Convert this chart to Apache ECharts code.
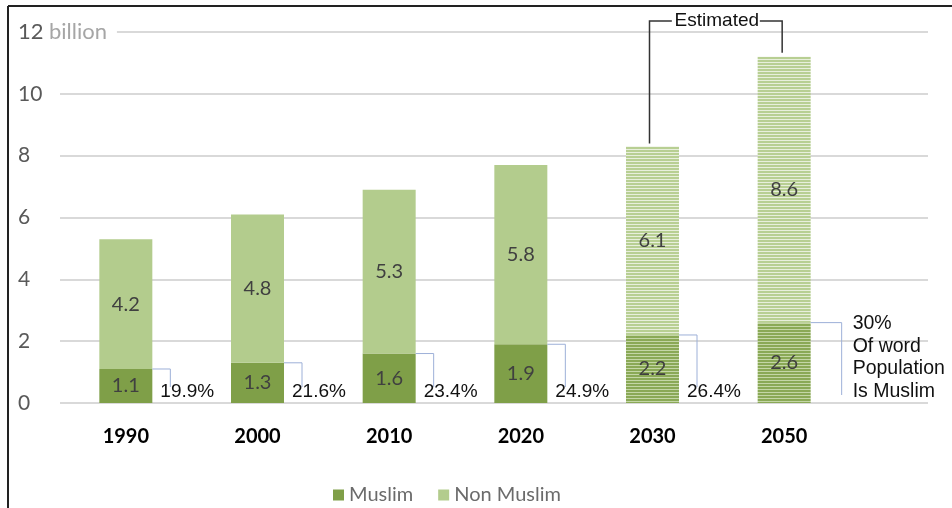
<!DOCTYPE html>
<html>
<head>
<meta charset="utf-8">
<script src="https://cdn.jsdelivr.net/npm/echarts@6/dist/echarts.min.js"></script>
<style>
  html, body { margin: 0; padding: 0; background: #fff; }
  #main { width: 952px; height: 508px; }
</style>
</head>
<body>
<div id="main"></div>
<script>
var years = ["1990", "2000", "2010", "2020", "2030", "2050"];
var muslim = [1.1, 1.3, 1.6, 1.9, 2.2, 2.6];
var nonMuslim = [4.2, 4.8, 5.3, 5.8, 6.1, 8.6];
var shareLabels = ["19.9%", "21.6%", "23.4%", "24.9%", "26.4%", "30%\nOf word\nPopulation\nIs Muslim"];
var estimated = [false, false, false, false, true, true];
var yMin = 0, yMax = 12, yStep = 2;

var BAR_W = 53;
var LABEL_FONT = "Lato";

// horizontal stripes for the estimated bars
function stripes(c1, c2) {
  var cv = document.createElement("canvas");
  cv.width = 4;
  cv.height = 3;
  var ctx = cv.getContext("2d");
  ctx.fillStyle = c1;
  ctx.fillRect(0, 0, 4, 2);
  ctx.fillStyle = c2;
  ctx.fillRect(0, 2, 4, 1);
  return { image: cv, repeat: "repeat" };
}

var MUSLIM_C = "#7f9f48";
var NON_C = "#b3cc8d";
var muslimHatch = stripes("#8aa956", "#c4d6a6");
var nonHatch = stripes("#b8cf93", "#e8efdc");

function barData(vals, hatch) {
  return vals.map(function (v, i) {
    return estimated[i] ? { value: v, itemStyle: { color: hatch } } : v;
  });
}

var chart = echarts.init(document.getElementById("main"));

var option = {
  animation: false,
  backgroundColor: "#fff",
  graphic: [
    { type: "line", shape: { x1: 8, y1: 6, x2: 952, y2: 6 }, style: { stroke: "#222", lineWidth: 2 } },
    { type: "line", shape: { x1: 8, y1: 6, x2: 8, y2: 508 }, style: { stroke: "#222", lineWidth: 2 } }
  ],
  legend: {
    data: ["Muslim", "Non Muslim"],
    left: 328,
    top: 480,
    itemWidth: 11,
    itemHeight: 11,
    itemGap: 25,
    icon: "rect",
    textStyle: { fontFamily: LABEL_FONT, fontSize: 20, color: "#6b6b6b" }
  },
  grid: [
    { left: 60, right: 24, top: 32, bottom: 105 },
    { left: 60, width: 790, top: 32, bottom: 105 }
  ],
  xAxis: [
    { gridIndex: 0, type: "value", show: false, min: 0, max: 1 },
    {
      gridIndex: 1,
      type: "category",
      data: years,
      axisLine: { show: false },
      axisTick: { show: false },
      axisLabel: {
        margin: 24,
        fontFamily: LABEL_FONT,
        fontSize: 20,
        fontWeight: "bold",
        color: "#000"
      }
    }
  ],
  yAxis: [
    {
      gridIndex: 0,
      type: "value",
      min: yMin,
      max: yMax,
      interval: yStep,
      axisLine: { show: false },
      axisTick: { show: false },
      axisLabel: { show: false },
      splitLine: { lineStyle: { color: "#d9d9d9", width: 2 } }
    },
    {
      gridIndex: 1,
      type: "value",
      min: yMin,
      max: yMax,
      interval: yStep,
      z: 5,
      axisLine: { show: false },
      axisTick: { show: false },
      splitLine: { show: false },
      axisLabel: {
        align: "left",
        margin: 42,
        backgroundColor: "#fff",
        padding: [0, 10, 0, 0],
        fontFamily: LABEL_FONT,
        fontSize: 21,
        color: "#595959",
        formatter: function (v) {
          return v === yMax ? "{a|" + v + "} {b|billion}" : String(v);
        },
        rich: {
          a: { fontFamily: LABEL_FONT, fontSize: 22, color: "#595959" },
          b: { fontFamily: LABEL_FONT, fontSize: 22, color: "#a6a6a6" }
        }
      }
    }
  ],
  series: [
    {
      name: "Muslim",
      type: "bar",
      stack: "pop",
      xAxisIndex: 1,
      yAxisIndex: 1,
      barWidth: BAR_W,
      itemStyle: { color: MUSLIM_C },
      label: { show: true, position: "inside", fontFamily: LABEL_FONT, fontSize: 20, color: "#404040" },
      data: barData(muslim, muslimHatch)
    },
    {
      name: "Non Muslim",
      type: "bar",
      stack: "pop",
      xAxisIndex: 1,
      yAxisIndex: 1,
      barWidth: BAR_W,
      itemStyle: { color: NON_C },
      label: { show: true, position: "inside", fontFamily: LABEL_FONT, fontSize: 20, color: "#404040" },
      data: barData(nonMuslim, nonHatch)
    },
    // share callouts
    {
      type: "custom",
      xAxisIndex: 1,
      yAxisIndex: 1,
      silent: true,
      z: 4,
      data: years.map(function (y, i) { return [i, muslim[i]]; }),
      renderItem: function (params, api) {
        var i = api.value(0);
        var top = api.coord([i, api.value(1)]);
        var zero = api.coord([i, 0]);
        var x0 = top[0] + BAR_W / 2;
        var last = i === years.length - 1;
        var dx = last ? 31 : 18;
        var yEnd = last ? zero[1] - 8 : zero[1] - 16;
        return {
          type: "group",
          children: [
            {
              type: "polyline",
              shape: { points: [[x0, top[1]], [x0 + dx, top[1]], [x0 + dx, yEnd]] },
              style: { stroke: "#9db0d8", lineWidth: 1, fill: null }
            },
            {
              type: "text",
              style: {
                x: last ? x0 + 42 : x0 + 8,
                y: zero[1],
                text: shareLabels[i],
                fontFamily: "Liberation Sans",
                fontSize: last ? 19.5 : 19,
                lineHeight: 22.7,
                fill: "#111",
                textAlign: "left",
                textVerticalAlign: "bottom"
              }
            }
          ]
        };
      }
    },
    // "Estimated" bracket
    {
      type: "custom",
      xAxisIndex: 1,
      yAxisIndex: 1,
      silent: true,
      z: 4,
      data: [[4, muslim[4] + nonMuslim[4], 5, muslim[5] + nonMuslim[5]]],
      encode: { x: [0, 2], y: [1, 3] },
      renderItem: function (params, api) {
        var a = api.coord([api.value(0), api.value(1)]);
        var b = api.coord([api.value(2), api.value(3)]);
        var topY = api.coord([0, yMax])[1] - 11;
        var x1 = a[0] - 3, x2 = b[0] - 2;
        var mid = (x1 + x2) / 2 + 1;
        var line = { stroke: "#333", lineWidth: 1.5, fill: null };
        return {
          type: "group",
          children: [
            { type: "polyline", shape: { points: [[x1, a[1] - 3], [x1, topY], [mid - 45, topY]] }, style: line },
            { type: "polyline", shape: { points: [[mid + 43, topY], [x2, topY], [x2, b[1] - 4]] }, style: line },
            {
              type: "text",
              style: {
                x: mid, y: topY,
                text: "Estimated",
                fontFamily: "Liberation Sans",
                fontSize: 19,
                fill: "#111",
                textAlign: "center",
                textVerticalAlign: "middle"
              }
            }
          ]
        };
      }
    }
  ]
};

chart.setOption(option);
</script>
</body>
</html>
